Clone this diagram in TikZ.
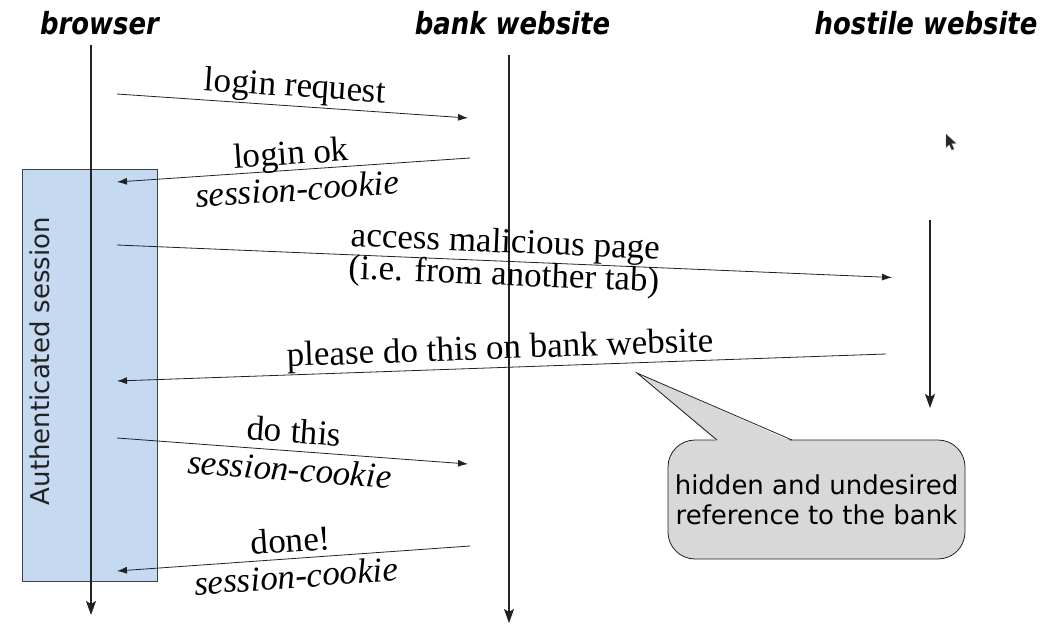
\documentclass[tikz,border=0pt]{standalone}
\usepackage{fontspec}
\setmainfont{Liberation Serif}
\newfontfamily\headfont[FakeStretch=0.85]{DejaVu Sans}
\newfontfamily\notefont{DejaVu Sans}
\usetikzlibrary{arrows.meta}

\definecolor{sessionblue}{HTML}{C5D9F1}
\definecolor{sessionedge}{HTML}{3A4250}
\definecolor{notegray}{HTML}{D8D8D8}
\definecolor{inkdark}{HTML}{222222}

\tikzset{
  lifeline/.style={draw=inkdark, line width=1.4pt,
    -{Stealth[length=14pt,width=10pt,inset=3pt]}},
  msg/.style={draw=inkdark, line width=0.8pt},
  head/.style={anchor=base, inner sep=0pt, text=black,
    font=\headfont\bfseries\itshape\fontsize{30.5}{36}\selectfont},
  lbl/.style={sloped, anchor=base, inner sep=0pt,
    font=\fontsize{35}{40}\selectfont},
  cookie/.style={sloped, anchor=base, inner sep=0pt,
    font=\fontsize{35}{40}\selectfont\itshape},
  sessionbox/.style={draw=sessionedge, fill=sessionblue, line width=0.8pt,
    inner sep=0pt, minimum width=135pt, minimum height=412pt},
  notebox/.style={draw=inkdark, fill=notegray, line width=0.8pt,
    rounded corners=27pt, inner sep=0pt, align=center,
    minimum width=297pt, minimum height=119pt,
    font=\notefont\fontsize{26}{30}\selectfont},
}

\begin{document}
\begin{tikzpicture}[x=1pt,y=-1pt,>={Latex[length=10pt,width=7pt]}]
\useasboundingbox (0,0) rectangle (1047,631);

% column headings
\node[head] (hbrowser) at (99.5,35) {browser};
\node[head] (hbank)    at (512.5,35) {bank website};
\node[head] (hhostile) at (926,35) {hostile website};

% authenticated session bar
\node[sessionbox] (auth) at (89.5,375) {};
\node[rotate=90, anchor=base, inner sep=0pt, text=inkdark,
      font=\notefont\fontsize{26}{30}\selectfont] (authlbl) at (49,361) {Authenticated session};

% lifelines
\coordinate (brTop) at (91,45);   \coordinate (brEnd) at (91,615);
\coordinate (bkTop) at (509,55);  \coordinate (bkEnd) at (509,623);
\coordinate (hoTop) at (930,220); \coordinate (hoEnd) at (930,408);
\draw[lifeline] (brTop) -- (brEnd);
\draw[lifeline] (bkTop) -- (bkEnd);
\draw[lifeline] (hoTop) -- (hoEnd);

% messages
\coordinate (m1a) at (117,94);  \coordinate (m1b) at (468,118);
\draw[msg,->] (m1a) -- node[lbl,pos=0.504,yshift=9.5pt] (t1) {login request} (m1b);

\coordinate (m2a) at (117,182); \coordinate (m2b) at (470,158);
\draw[msg,<-] (m2a) -- node[lbl,pos=0.496,yshift=5.5pt] (t2) {login ok}
                    node[cookie,pos=0.507,yshift=-31pt] (c2) {session-cookie} (m2b);

\coordinate (m3a) at (117,245); \coordinate (m3b) at (892,277.5);
\draw[msg,->] (m3a) -- node[lbl,pos=0.5,yshift=8.6pt] (t3) {access malicious page}
                    node[lbl,pos=0.5,yshift=-24pt] (u3) {(i.e. from another tab)} (m3b);

\coordinate (m4a) at (117,381); \coordinate (m4b) at (886,354);
\draw[msg,<-] (m4a) -- node[lbl,pos=0.499,yshift=8.5pt] (t4) {please do this on bank website} (m4b);

\coordinate (m5a) at (117,438); \coordinate (m5b) at (468,464);
\draw[msg,->] (m5a) -- node[lbl,pos=0.501,yshift=8pt] (t5) {do this}
                    node[cookie,pos=0.496,yshift=-30pt] (c5) {session-cookie} (m5b);

\coordinate (m6a) at (117,571); \coordinate (m6b) at (470,546);
\draw[msg,<-] (m6a) -- node[lbl,pos=0.496,yshift=6.5pt] (t6) {done!}
                    node[cookie,pos=0.504,yshift=-29.5pt] (c6) {session-cookie} (m6b);

% speech bubble
\node[notebox] (note) at (816.5,499.5) {hidden and undesired\\reference to the bank};
\coordinate (tip) at (637,373);
\coordinate (pl) at (717,440);
\coordinate (pr) at (792,440);
\fill[notegray] (tip) -- ([yshift=-1.6pt]pl) -- ([yshift=-1.6pt]pr) -- cycle;
\draw[draw=inkdark, line width=0.8pt, line join=miter] (pl) -- (tip) -- (pr);

% mouse pointer
\fill[black!85, draw=black!55, line width=0.3pt]
  (946,134) -- (946,147.5) -- (949.3,144.5) -- (951.8,150) -- (954,149)
  -- (951.6,143.6) -- (956,143.3) -- cycle;
\end{tikzpicture}
\end{document}
